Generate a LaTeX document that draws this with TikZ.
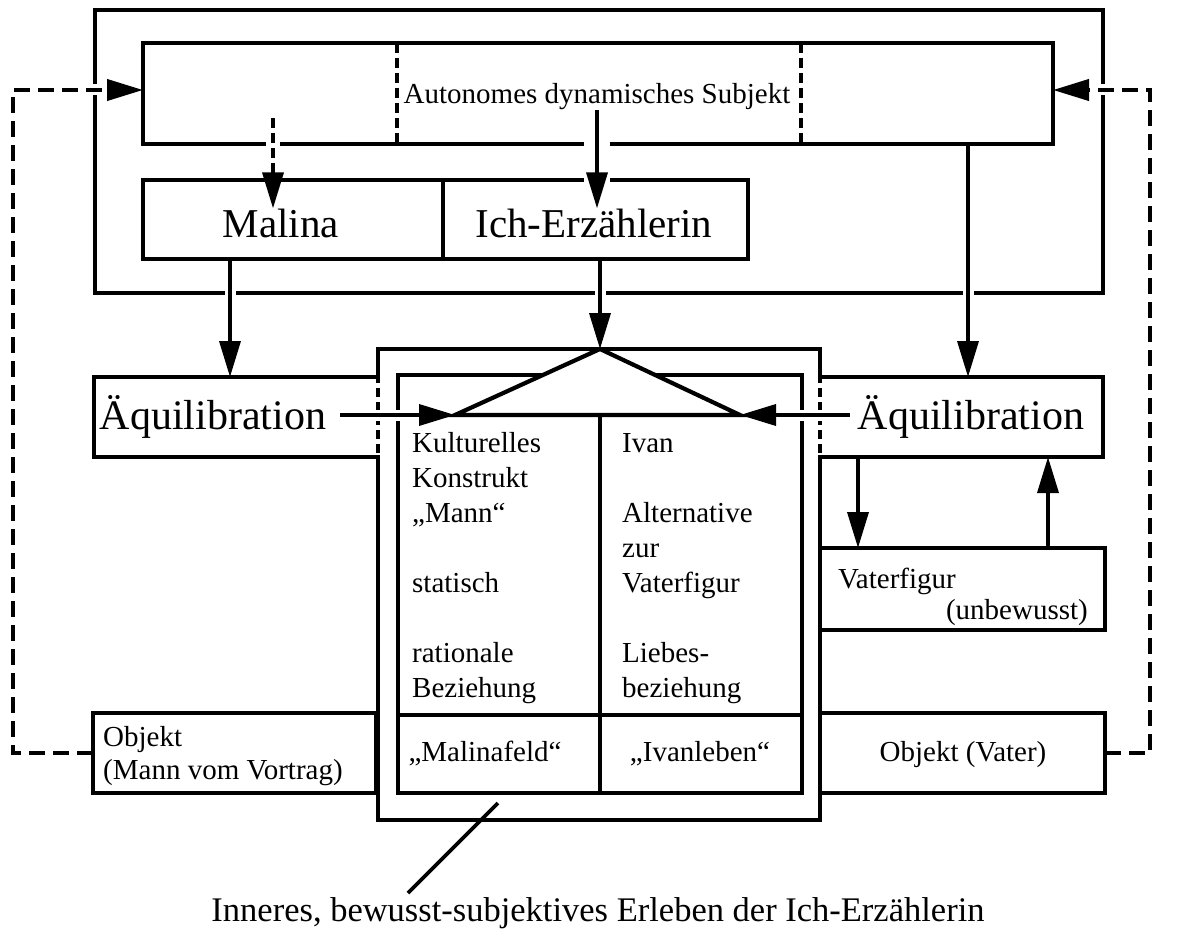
\documentclass[tikz,border=0pt]{standalone}
\usepackage{fontspec}
\setmainfont{Liberation Serif}
\usetikzlibrary{arrows.meta}
\begin{document}
\begin{tikzpicture}[x=1pt,y=-1pt,
  box/.style={draw, line width=4.2pt, inner sep=0pt, outer sep=0pt},
  txt/.style={inner sep=0pt, font=\fontsize{29}{35}\selectfont},
  bigtxt/.style={inner sep=0pt, font=\fontsize{41}{48}\selectfont},
  aqtxt/.style={inner sep=0pt, font=\fontsize{42}{48}\selectfont},
  tiparrow/.style={-{Triangle[length=36pt,width=21pt]}},
  conn/.style={line width=3.6pt, tiparrow, preaction={draw=white, line width=11pt, shorten <=5pt, shorten >=40pt, -}},
  conntxt/.style={line width=3.6pt, tiparrow, preaction={draw=white, line width=26pt, shorten <=30pt, shorten >=14pt, -}},
  dashconn/.style={line width=3.6pt, tiparrow, dash pattern=on 10pt off 5pt, preaction={draw=white, solid, line width=14pt, shorten <=16pt, shorten >=14pt, -}},
  loopconn/.style={line width=4pt, tiparrow, dash pattern=on 16pt off 8pt, preaction={draw=white, solid, line width=11pt, shorten <=5pt, shorten >=40pt, -}},
  divider/.style={line width=3.6pt, dash pattern=on 10pt off 5pt},
  plain/.style={line width=4.2pt}
]
\useasboundingbox (0,0) rectangle (1192,934);

% boxes
\node[box, minimum width=1008pt, minimum height=283pt] (outer) at (599,151.5) {};
\node[box, minimum width=910pt, minimum height=101pt] (subj) at (598,93.5) {};
\node[box, minimum width=300pt, minimum height=79pt] (mal) at (293,219.5) {};
\node[box, minimum width=305pt, minimum height=79pt] (ich) at (595.5,219.5) {};
\node[box, minimum width=284pt, minimum height=80pt] (aqL) at (236,417) {};
\node[box, minimum width=283pt, minimum height=80pt] (aqR) at (961.5,417) {};
\node[box, minimum width=442pt, minimum height=471pt] (cout) at (599,584.5) {};
\node[box, minimum width=404pt, minimum height=418pt] (cin) at (600,584) {};
\node[box, minimum width=285pt, minimum height=82pt] (vat) at (962.5,589) {};
\node[box, minimum width=283pt, minimum height=80pt] (objL) at (234.5,753) {};
\node[box, minimum width=285pt, minimum height=80pt] (objR) at (962.5,753) {};

% dashed dividers in the subject box
\draw[divider] (397,43) -- (397,144);
\draw[divider] (801,43) -- (801,144);

% permeable borders between Aequilibration boxes and the central box
\draw[white, line width=6pt, dash pattern=on 5pt off 9pt] (378,383) -- (378,455);
\draw[white, line width=6pt, dash pattern=on 5pt off 9pt] (820,383) -- (820,455);

% inner structure of the central box
\draw[plain] (cin.west |- 0,715) -- (cin.east |- 0,715);
\coordinate (apex) at (600,349);
\coordinate (triL) at (455,415);
\coordinate (triR) at (740,415);
\draw[plain] (600,415) -- (600,793);
\filldraw[fill=white, line width=4.2pt, line join=miter] (triL) -- (apex) -- (triR) -- cycle;

% texts
\node[txt] (subjtxt) at (597,97) {Autonomes dynamisches Subjekt};
\node[bigtxt] (maltxt) at (281,223) {Malina};
\node[bigtxt] (ichtxt) at (594,223) {Ich-Erzählerin};
\node[aqtxt, inner xsep=14pt] (aqLtxt) at (213,417) {Äquilibration};
\node[aqtxt, inner xsep=8pt] (aqRtxt) at (971,417) {Äquilibration};

\foreach \t/\y [count=\i] in {Kulturelles/452, Konstrukt/487, „Mann“/522, statisch/592, rationale/662, Beziehung/697}
  \node[txt, anchor=base west] (lc\i) at (412,\y) {\t};
\foreach \t/\y [count=\i] in {Ivan/452, Alternative/522, zur/557, Vaterfigur/592, Liebes-/662, beziehung/697}
  \node[txt, anchor=base west] (rc\i) at (622,\y) {\t};

\node[txt, anchor=base] (malfeld) at (485,761) {„Malinafeld“};
\node[txt, anchor=base] (ivanl) at (700,761) {„Ivanleben“};

\node[txt, anchor=base west] (vat1) at (838,588) {Vaterfigur};
\node[txt, anchor=base east] (vat2) at (1088,619) {(unbewusst)};

\node[txt, anchor=base west] (objL1) at (103,746) {Objekt};
\node[txt, anchor=base west] (objL2) at (103,779) {(Mann vom Vortrag)};
\node[txt, anchor=base] (objRt) at (963,761) {Objekt (Vater)};

\node[txt, font=\fontsize{34.5}{40}\selectfont, anchor=base] (lbl) at (598,921) {Inneres, bewusst-subjektives Erleben der Ich-Erzählerin};

% helper coordinates
\coordinate (xa) at (230,0);
\coordinate (xb) at (273,0);
\coordinate (xc) at (968,0);
\coordinate (xd) at (858,0);
\coordinate (xe) at (1048,0);
\coordinate (dA) at (273,118);
\coordinate (lcA) at (13,90);
\coordinate (rcA) at (1150,90);
\coordinate (ptrA) at (498,803);
\coordinate (ptrB) at (408,893);

% connectors
\draw[dashconn] (dA) -- (maltxt.north -| xb);
\draw[conntxt] (subjtxt.south) -- (subjtxt.south |- ichtxt.north);
\draw[conn] (mal.south -| xa) -- (aqL.north -| xa);
\draw[conn] (ich.south -| apex) -- (apex);
\draw[conn] (subj.south -| xc) -- (aqR.north -| xc);
\draw[conn] (aqLtxt.east |- triL) -- (triL);
\draw[conn] (aqRtxt.west |- triR) -- (triR);
\draw[conn] (aqR.south -| xd) -- (vat.north -| xd);
\draw[conn] (vat.north -| xe) -- (aqR.south -| xe);
\draw[loopconn] (objL.west) -| (lcA) -- (subj.west |- lcA);
\draw[loopconn] (objR.east) -| (rcA) -- (subj.east |- rcA);
\draw[line width=3.6pt] (ptrA) -- (ptrB);
\end{tikzpicture}
\end{document}
